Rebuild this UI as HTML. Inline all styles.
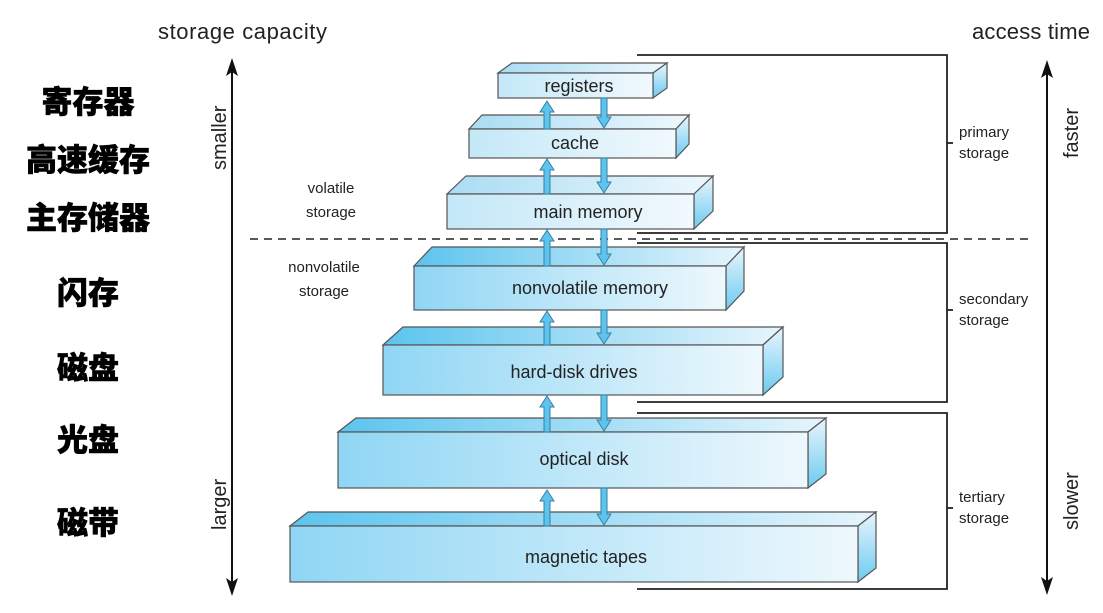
<!DOCTYPE html>
<html><head><meta charset="utf-8"><style>
html,body{margin:0;padding:0;background:#fff;}
svg{display:block;}
text{font-family:"Liberation Sans","Noto Sans CJK SC",sans-serif;fill:#222;}
.cn{font-family:"Liberation Sans","Noto Sans CJK SC",sans-serif;font-weight:900;font-size:31px;fill:#000;stroke:#000;stroke-width:0.6;}
</style></head><body>
<svg width="1103" height="613" viewBox="0 0 1103 613" xmlns="http://www.w3.org/2000/svg">
<defs>
<linearGradient id="fd" x1="0" x2="1" y1="0" y2="0"><stop offset="0" stop-color="#8fd6f4"/><stop offset="1" stop-color="#eef8fd"/></linearGradient>
<linearGradient id="fl" x1="0" x2="1" y1="0" y2="0"><stop offset="0" stop-color="#c4e8f8"/><stop offset="1" stop-color="#f1f9fd"/></linearGradient>
<linearGradient id="td" x1="0" x2="1" y1="0" y2="0"><stop offset="0" stop-color="#5cc4ee"/><stop offset="1" stop-color="#e6f5fc"/></linearGradient>
<linearGradient id="tl" x1="0" x2="1" y1="0" y2="0"><stop offset="0" stop-color="#a9dcf3"/><stop offset="1" stop-color="#eef8fd"/></linearGradient>
<linearGradient id="sd" x1="0" x2="0" y1="0" y2="1"><stop offset="0" stop-color="#e8f6fd"/><stop offset="1" stop-color="#6ccaf0"/></linearGradient>
</defs>

<text x="158" y="39" font-size="22" textLength="169">storage capacity</text>
<text x="972" y="39" font-size="22" textLength="118">access time</text>

<text class="cn" x="88" y="113" text-anchor="middle">寄存器</text>
<text class="cn" x="88" y="171" text-anchor="middle">高速缓存</text>
<text class="cn" x="88" y="229" text-anchor="middle">主存储器</text>
<text class="cn" x="88" y="304" text-anchor="middle">闪存</text>
<text class="cn" x="88" y="379" text-anchor="middle">磁盘</text>
<text class="cn" x="88" y="451" text-anchor="middle">光盘</text>
<text class="cn" x="88" y="534" text-anchor="middle">磁带</text>

<line x1="232" y1="590" x2="232" y2="70" stroke="#111" stroke-width="2"/>
<path d="M232,58 L226,76 L232,72 L238,76 Z" fill="#111"/>
<path d="M232,596 L226,578 L232,582 L238,578 Z" fill="#111"/>
<text transform="translate(226,170) rotate(-90)" font-size="20">smaller</text>
<text transform="translate(226,530) rotate(-90)" font-size="20">larger</text>

<line x1="1047" y1="590" x2="1047" y2="70" stroke="#111" stroke-width="2"/>
<path d="M1047,60 L1041,78 L1047,74 L1053,78 Z" fill="#111"/>
<path d="M1047,595 L1041,577 L1047,581 L1053,577 Z" fill="#111"/>
<text transform="translate(1078,158) rotate(-90)" font-size="20">faster</text>
<text transform="translate(1078,530) rotate(-90)" font-size="20">slower</text>

<text x="331" y="193" font-size="15" text-anchor="middle">volatile</text>
<text x="331" y="217" font-size="15" text-anchor="middle">storage</text>
<text x="324" y="272" font-size="15" text-anchor="middle">nonvolatile</text>
<text x="324" y="296" font-size="15" text-anchor="middle">storage</text>

<line x1="250" y1="239" x2="1030" y2="239" stroke="#222" stroke-width="1.5" stroke-dasharray="8,6"/>

<g fill="none" stroke="#222" stroke-width="1.8">
<polyline points="637,55 947,55 947,233 637,233"/>
<polyline points="637,243 947,243 947,402 637,402"/>
<polyline points="637,413 947,413 947,589 637,589"/>
<line x1="947" y1="143" x2="953" y2="143"/>
<line x1="947" y1="310" x2="953" y2="310"/>
<line x1="947" y1="508" x2="953" y2="508"/>
</g>
<text x="959" y="137" font-size="15">primary</text>
<text x="959" y="158" font-size="15">storage</text>
<text x="959" y="304" font-size="15">secondary</text>
<text x="959" y="325" font-size="15">storage</text>
<text x="959" y="502" font-size="15">tertiary</text>
<text x="959" y="523" font-size="15">storage</text>

<g stroke="#555" stroke-width="1.2">
<polygon points="498,73 512,63 667,63 653,73" fill="url(#tl)"/>
<polygon points="653,73 667,63 667,88 653,98" fill="url(#sd)"/>
<rect x="498" y="73" width="155" height="25" fill="url(#fl)"/>
<polygon points="469,129 482,115 689,115 676,129" fill="url(#tl)"/>
<polygon points="676,129 689,115 689,144 676,158" fill="url(#sd)"/>
<rect x="469" y="129" width="207" height="29" fill="url(#fl)"/>
<polygon points="447,194 466,176 713,176 694,194" fill="url(#tl)"/>
<polygon points="694,194 713,176 713,211 694,229" fill="url(#sd)"/>
<rect x="447" y="194" width="247" height="35" fill="url(#fl)"/>
<polygon points="414,266 432,247 744,247 726,266" fill="url(#td)"/>
<polygon points="726,266 744,247 744,291 726,310" fill="url(#sd)"/>
<rect x="414" y="266" width="312" height="44" fill="url(#fd)"/>
<polygon points="383,345 403,327 783,327 763,345" fill="url(#td)"/>
<polygon points="763,345 783,327 783,377 763,395" fill="url(#sd)"/>
<rect x="383" y="345" width="380" height="50" fill="url(#fd)"/>
<polygon points="338,432 356,418 826,418 808,432" fill="url(#td)"/>
<polygon points="808,432 826,418 826,474 808,488" fill="url(#sd)"/>
<rect x="338" y="432" width="470" height="56" fill="url(#fd)"/>
<polygon points="290,526 308,512 876,512 858,526" fill="url(#td)"/>
<polygon points="858,526 876,512 876,568 858,582" fill="url(#sd)"/>
<rect x="290" y="526" width="568" height="56" fill="url(#fd)"/>
</g>

<g font-size="18" text-anchor="middle">
<text x="579" y="92">registers</text>
<text x="575" y="149">cache</text>
<text x="588" y="218">main memory</text>
<text x="590" y="294">nonvolatile memory</text>
<text x="574" y="378">hard-disk drives</text>
<text x="584" y="465">optical disk</text>
<text x="586" y="563">magnetic tapes</text>
</g>

<g fill="#5cc4ee" stroke="#3a7fa0" stroke-width="1">
<path d="M544,129 L544,112 L540,112 L547,101 L554,112 L550,112 L550,129 Z"/>
<path d="M544,194 L544,170 L540,170 L547,159 L554,170 L550,170 L550,194 Z"/>
<path d="M544,266 L544,241 L540,241 L547,230 L554,241 L550,241 L550,266 Z"/>
<path d="M544,345 L544,322 L540,322 L547,311 L554,322 L550,322 L550,345 Z"/>
<path d="M544,432 L544,407 L540,407 L547,396 L554,407 L550,407 L550,432 Z"/>
<path d="M544,526 L544,501 L540,501 L547,490 L554,501 L550,501 L550,526 Z"/>
<path d="M601,98 L601,117 L597,117 L604,128 L611,117 L607,117 L607,98 Z"/>
<path d="M601,158 L601,182 L597,182 L604,193 L611,182 L607,182 L607,158 Z"/>
<path d="M601,229 L601,254 L597,254 L604,265 L611,254 L607,254 L607,229 Z"/>
<path d="M601,310 L601,333 L597,333 L604,344 L611,333 L607,333 L607,310 Z"/>
<path d="M601,395 L601,420 L597,420 L604,431 L611,420 L607,420 L607,395 Z"/>
<path d="M601,488 L601,514 L597,514 L604,525 L611,514 L607,514 L607,488 Z"/>
</g>
</svg>
</body></html>
